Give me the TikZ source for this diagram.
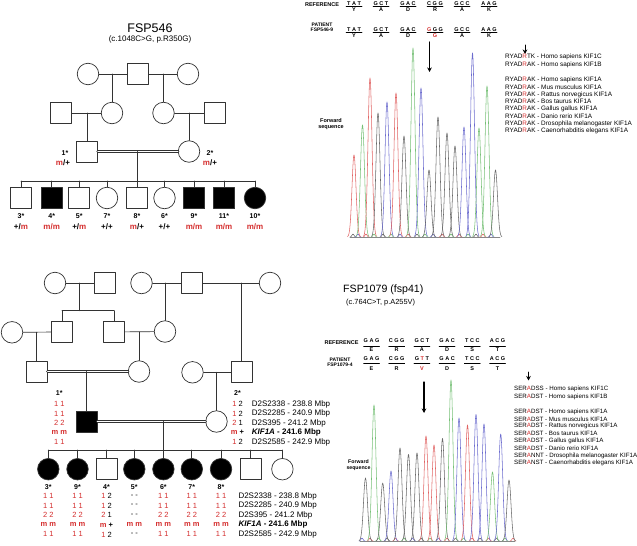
\documentclass[tikz,border=0pt]{standalone}
\usepackage{fontspec}
\setmainfont{Liberation Sans}
\usetikzlibrary{arrows.meta}

\definecolor{mutred}{RGB}{212,45,45}
\definecolor{trR}{RGB}{224,100,100}
\definecolor{trG}{RGB}{118,192,118}
\definecolor{trB}{RGB}{108,108,206}
\definecolor{trK}{RGB}{105,105,105}

\newcommand{\redtxt}[1]{\textcolor{mutred}{#1}}
\newcommand{\fsz}[1]{\fontsize{#1}{#1}\selectfont}
% haplotype columns (D2S2338, D2S2285, D2S395, KIF1A, D2S2585)
\newcommand{\hapaff}{\redtxt{1 1},\redtxt{1 1},\redtxt{2 2},\textbf{\redtxt{m m}},\redtxt{1 1}}
\newcommand{\hapcar}{\redtxt{1} 2,\redtxt{1} 2,\redtxt{2} 1,\textbf{\redtxt{m} +},\redtxt{1} 2}
\newcommand{\hapnone}{- -,- -,- -,\textbf{\redtxt{m m}},- -}
\newcommand{\loci}{D2S2338 - 238.8 Mbp,D2S2285 - 240.9 Mbp,D2S395 - 241.2 Mbp,\textbf{\textit{KIF1A} - 241.6 Mbp},D2S2585 - 242.9 Mbp}

\begin{document}
\begin{tikzpicture}[
    x=1pt, y=-1pt,
    line cap=round,
    line join=round,
    kin/.style={draw=black!80, line width=0.7pt},
    male/.style={kin, rectangle, minimum size=21pt, inner sep=0pt},
    female/.style={kin, circle, minimum size=21.5pt, inner sep=0pt},
    affected/.style={fill=black},
    consang/.style={draw=black!80, line width=1pt, double=white, double distance=1pt},
    famtitle/.style={font=\fsz{12.5}},
    mutation/.style={font=\fsz{8}},
    idlbl/.style={font=\bfseries\fsz{7}, inner sep=0pt},
    geno/.style={font=\bfseries\fsz{8}, inner sep=0pt},
    hap/.style={font=\fsz{7.5}, inner sep=0pt},
    locus/.style={font=\fsz{8}, inner sep=0pt, anchor=west},
    seqlbl/.style={font=\bfseries\fontsize{5}{5.4}\selectfont, inner sep=0pt, align=center},
    nuc/.style={font=\bfseries\fsz{5.5}, inner sep=0pt},
    codline/.style={draw=black, line width=0.5pt},
    ortho/.style={font=\fsz{6.4}, inner sep=0pt, anchor=west},
    chrom/.style={line width=0.55pt},
    pointer/.style={line width=1.2pt, -{Stealth[length=4.5pt, width=4.5pt]}}
]
\useasboundingbox (0,0) rectangle (637,546);

% -------------------------------------------------
% FSP546: pedigree
% -------------------------------------------------

\node[famtitle] (famA) at (150,28) {FSP546};
\node[mutation] (famAmut) at (150,39.3) {(c.1048C>G, p.R350G)};

% generation I
\node[female] (a1) at (88,74) {};
\node[male]   (a2) at (137.5,74) {};
\node[female] (a3) at (188,74) {};
% generation II
\node[male]   (b1) at (61,113) {};
\node[female] (b2) at (112,113) {};
\node[female] (b3) at (163.5,113) {};
\node[male]   (b4) at (214.5,113) {};
% parents 1* and 2*
\node[male]   (pa1) at (87,151.5) {};
\node[female] (pa2) at (189,151.5) {};
% sibship
\coordinate (sibA) at (0,181);
\node[male]             (s3)  at (21,198) {};
\node[male, affected]   (s4)  at (51.7,198) {};
\node[male]             (s5)  at (79.3,198) {};
\node[female]           (s7)  at (107,198) {};
\node[male]             (s8)  at (137,198) {};
\node[female]           (s6)  at (164.5,198) {};
\node[male, affected]   (s9)  at (194,198) {};
\node[male, affected]   (s11) at (224,198) {};
\node[female, affected] (s10) at (255,198) {};

\draw[kin] (a1) -- (a2) -- (a3);
\draw[kin] (b2 |- a1) -- (b2);
\draw[kin] (b3 |- a2) -- (b3);
\draw[kin] (b1) -- (b2);
\draw[kin] (b3) -- (b4);
\draw[kin] (pa1 |- b1) -- (pa1);
\draw[kin] (pa2 |- b4) -- (pa2);
\draw[consang] (pa1) -- (pa2);
\draw[kin] (s8 |- pa1) -- (s8);
\draw[kin] (s3 |- sibA) -- (s10 |- sibA);
\foreach \s in {s3,s4,s5,s7,s6,s9,s11,s10}
  \draw[kin] (\s |- sibA) -- (\s);

\node[idlbl] (pa1id) at (65,152.7) {1*};
\node[geno]  (pa1gt) at (63,163) {\redtxt{m}/+};
\node[idlbl] (pa2id) at (210,152.7) {2*};
\node[geno]  (pa2gt) at (210,163) {\redtxt{m}/+};

\foreach \s/\n/\g in {s3/3*/+\slash\redtxt{m}, s4/4*/\redtxt{m\slash m},
    s5/5*/+\slash\redtxt{m}, s7/7*/+\slash+, s8/8*/\redtxt{m}\slash+,
    s6/6*/+\slash+, s9/9*/\redtxt{m\slash m}, s11/11*/\redtxt{m\slash m},
    s10/10*/\redtxt{m\slash m}}
  \path (\s) ++(0,18) node[idlbl] (id-\s) {\n} ++(0,10.7) node[geno] (gt-\s) {\g};

% -------------------------------------------------
% FSP546: sequence
% -------------------------------------------------

\node[seqlbl, font=\bfseries\fsz{5.5}] (refA) at (322,4.5) {REFERENCE};
\node[seqlbl] (patA) at (322,27.5) {PATIENT\\FSP546-9};

\foreach \cx/\cod/\amino [count=\k] in {354/T A T/Y, 381/G C T/A, 408/G A C/D,
    435/C G G/R, 462/G C C/A, 489/A A G/K} {
  \node[nuc] (rcA\k) at (\cx,4) {\cod};
  \draw[codline] (\cx-8,6.5) -- (\cx+8,6.5);
  \node[nuc] (raA\k) at (\cx,9.5) {\amino};
}
\foreach \cx/\cod/\amino [count=\k] in {354/T A T/Y, 381/G C T/A, 408/G A C/D,
    435/\redtxt{G} G G/\redtxt{G}, 462/G C C/A, 489/A A G/K} {
  \node[nuc] (pcA\k) at (\cx,29.5) {\cod};
  \draw[codline] (\cx-8,32.3) -- (\cx+8,32.3);
  \node[nuc] (paA\k) at (\cx,35.3) {\amino};
}

\coordinate (arA1) at (429.5,42);
\coordinate (arA2) at (429.5,72);
\draw[pointer] (arA1) -- (arA2);

\node[seqlbl, font=\bfseries\fontsize{5.5}{6.8}\selectfont] (fwdA) at (331,124) {Forward\\sequence};

% chromatogram
\coordinate (bsA) at (350,237);
\coordinate (beA) at (500,237);
\draw[chrom, trK!80] (bsA) -- (beA);
\foreach \px/\pc in {353/trK, 358/trB, 366/trR, 374/trG, 383/trK, 391/trG, 400/trB,
    408/trR, 417/trK, 425/trG, 433/trB, 442/trR, 451/trG, 459/trR, 468/trG,
    476/trK, 483/trR, 491/trB}
  \draw[chrom, \pc] plot[domain=-3:3, samples=13, smooth] ({\px+\x},{237-3*exp(-(\x)*(\x)/2)});
\foreach \px/\py/\pc in {354/155/trR, 362.5/125/trG, 370/78/trR, 378/113/trK,
    387/102/trB, 396/93/trR, 404/136/trK, 413/48/trG, 421/88/trB, 429/170/trK,
    438/117/trK, 447/133/trK, 455/146/trK, 464/127/trB, 472.5/53/trB,
    479/128/trG, 487/86/trG, 495.5/170/trK}
  \draw[chrom, \pc] plot[domain=-6.5:6.5, samples=27, smooth] ({\px+\x},{237-(237-\py)*exp(-(\x)*(\x)/8)});

% conservation
\coordinate (arB1) at (525,45);
\coordinate (arB2) at (525,54);
\draw[pointer, line width=1pt] (arB1) -- (arB2);
\foreach \yy/\txt [count=\k] in {57/RYAD\redtxt{R}TK - Homo sapiens KIF1C,
    64.5/RYAD\redtxt{R}AK - Homo sapiens KIF1B,
    80/RYAD\redtxt{R}AK - Homo sapiens KIF1A,
    87.2/RYAD\redtxt{R}AK - Mus musculus KIF1A,
    94.5/RYAD\redtxt{R}AK - Rattus norvegicus KIF1A,
    101.8/RYAD\redtxt{R}AK - Bos taurus KIF1A,
    109.1/RYAD\redtxt{R}AK - Gallus gallus KIF1A,
    116.4/RYAD\redtxt{R}AK - Danio rerio KIF1A,
    123.7/RYAD\redtxt{R}AK - Drosophila melanogaster KIF1A,
    131/RYAD\redtxt{R}AK - Caenorhabditis elegans KIF1A}
  \node[ortho] (alA\k) at (505,\yy) {\txt};

% -------------------------------------------------
% FSP1079: pedigree
% -------------------------------------------------

% generation I
\node[female] (e1) at (55,283) {};
\node[male]   (e2) at (105,283) {};
\node[female] (e3) at (141.5,283) {};
\node[male]   (e4) at (191.7,283) {};
\node[female] (e5) at (270,283) {};
% generation II
\node[female] (f1) at (12,332.3) {};
\node[male]   (f2) at (62,332) {};
\node[male]   (f3) at (114,332) {};
\node[female] (f4) at (165,331.5) {};
% generation III
\node[male]   (h1) at (36.7,371.5) {};
\node[female] (h2) at (139,371.5) {};
\node[female] (h3) at (192.5,372.3) {};
\node[male]   (h4) at (241.5,372.3) {};
% parents 1* and 2*
\node[male, affected] (g1) at (86.5,421.5) {};
\node[female]         (g2) at (216.5,421.5) {};
% sibship
\coordinate (sibG) at (0,450);
\node[female, affected] (d3) at (48.3,469.2) {};
\node[female, affected] (d9) at (77.5,469.2) {};
\node[male]             (d4) at (106.5,469.2) {};
\node[female, affected] (d5) at (134.3,469.2) {};
\node[female, affected] (d6) at (163.4,469.2) {};
\node[female, affected] (d7) at (191.8,469.2) {};
\node[female, affected] (d8) at (221,469.2) {};
\node[male]             (dA) at (250.5,469.2) {};
\node[female]           (dB) at (282.4,469.2) {};

\coordinate (sibE) at (0,310.7);
\coordinate (jE) at (79.5,283);
\draw[kin] (e1) -- (e2);
\draw[kin] (jE) -- (jE |- sibE);
\draw[kin] (f2 |- sibE) -- (f3 |- sibE);
\draw[kin] (f2 |- sibE) -- (f2);
\draw[kin] (f3 |- sibE) -- (f3);
\draw[kin] (e3) -- (e4) -- (e5);
\draw[kin] (f4 |- e3) -- (f4);
\draw[kin] (h4 |- e4) -- (h4);
\draw[kin] (f1) -- (f2);
\draw[kin] (h1 |- f1) -- (h1);
\draw[kin] (f3) -- (f4);
\draw[kin] (h2 |- f3) -- (h2);
\draw[consang] (h1) -- (h2);
\draw[kin] (g1 |- h1) -- (g1);
\draw[kin] (h3) -- (h4);
\draw[kin] (g2 |- h3) -- (g2);
\draw[consang] (g1) -- (g2);
\draw[kin] (d6 |- g1) -- (d6);
\draw[kin] (d3 |- sibG) -- (dB |- sibG);
\foreach \s in {d3,d9,d4,d5,d7,d8,dA,dB}
  \draw[kin] (\s |- sibG) -- (\s);

% haplotypes
\coordinate (hp1) at (59.3,393);
\coordinate (hp2) at (237.5,393);
\node[idlbl] (g1id) at (hp1) {1*};
\node[idlbl] (g2id) at (hp2) {2*};
\foreach \t [count=\r] in \hapaff
  \path (hp1) ++(0,{1.5+9.5*\r}) node[hap] (hg1-\r) {\t};
\foreach \t [count=\r] in \hapcar
  \path (hp2) ++(0,{1.5+9.5*\r}) node[hap] (hg2-\r) {\t};
\foreach \t [count=\r] in \loci
  \path (hp2) ++(14.2,{1.5+9.5*\r}) node[locus] (lg2-\r) {\t};

\foreach \s/\n in {d3/3*, d9/9*, d4/4*, d5/5*, d6/6*, d7/7*, d8/8*}
  \path (\s) ++(0,17.5) node[idlbl] (id-\s) {\n};
\foreach \s in {d3,d9,d6,d7,d8}
  \foreach \t [count=\r] in \hapaff
    \path (\s) ++(0,{17.2+9.6*\r}) node[hap] (hp-\s-\r) {\t};
\foreach \t [count=\r] in \hapcar
  \path (d4) ++(0,{17.2+9.6*\r}) node[hap] (hp-d4-\r) {\t};
\foreach \t [count=\r] in \hapnone
  \path (d5) ++(0,{17.2+9.6*\r}) node[hap] (hp-d5-\r) {\t};
\foreach \t [count=\r] in \loci
  \path (d8) ++(17.3,{17.2+9.6*\r}) node[locus] (ld-\r) {\t};

% -------------------------------------------------
% FSP1079: sequence
% -------------------------------------------------

\node[font=\fsz{10.6}, inner sep=0pt, anchor=west] (famB) at (343,290) {FSP1079 (fsp41)};
\node[font=\fsz{7.4}, inner sep=0pt, anchor=west] (famBmut) at (346,302.7) {(c.764C>T, p.A255V)};

\node[seqlbl, font=\bfseries\fsz{5.5}] (refB) at (341.5,342.7) {REFERENCE};
\node[seqlbl] (patB) at (340,362.2) {PATIENT\\FSP1079-4};

\foreach \cx/\cod/\amino [count=\k] in {371.5/G A G/E, 396.7/C G G/R, 421.9/G C T/A,
    447.1/G A C/D, 472.3/T C C/S, 497.5/A C G/T} {
  \node[nuc] (rcB\k) at (\cx,341) {\cod};
  \draw[codline] (\cx-8,345.8) -- (\cx+8,345.8);
  \node[nuc] (raB\k) at (\cx,349.3) {\amino};
}
\foreach \cx/\cod/\amino [count=\k] in {371.5/G A G/E, 396.7/C G G/R,
    421.9/G \redtxt{T} T/\redtxt{V}, 447.1/G A C/D, 472.3/T C C/S, 497.5/A C G/T} {
  \node[nuc] (pcB\k) at (\cx,358.3) {\cod};
  \draw[codline] (\cx-8,363) -- (\cx+8,363);
  \node[nuc] (paB\k) at (\cx,368.5) {\amino};
}

\coordinate (arC1) at (424,382);
\coordinate (arC2) at (424,413);
\draw[pointer] (arC1) -- (arC2);

\node[seqlbl, font=\bfseries\fontsize{5.2}{6}\selectfont] (fwdB) at (358.5,465.5) {Forward\\sequence};

% chromatogram
\coordinate (bsB) at (360,541);
\coordinate (beB) at (515,541);
\draw[chrom, trK!80] (bsB) -- (beB);
\foreach \px/\pc in {362/trB, 370/trR, 378.5/trG, 387/trK, 395.5/trR, 404/trG,
    412.5/trB, 421/trK, 430/trG, 438.5/trB, 447/trR, 455.5/trK, 463.5/trG,
    472/trR, 480/trK, 488.5/trR, 496.5/trK, 505/trG, 513/trR}
  \draw[chrom, \pc] plot[domain=-3:3, samples=13, smooth] ({\px+\x},{541-3*exp(-(\x)*(\x)/2)});
\foreach \px/\py/\pc in {365.5/478/trK, 374/405/trG, 382.7/483/trK, 391/471/trB,
    400/448/trK, 408.5/454.5/trK, 417/453/trK, 426/436/trR, 434/445/trR,
    442.5/438.5/trK, 451/380/trG, 459/418/trB, 467.5/425/trR, 476/414.5/trB,
    484/424/trB, 492.5/472/trG, 500.7/434/trB, 509/480/trK}
  \draw[chrom, \pc] plot[domain=-6.5:6.5, samples=27, smooth] ({\px+\x},{541-(541-\py)*exp(-(\x)*(\x)/8)});

% conservation
\coordinate (arD1) at (528.5,372);
\coordinate (arD2) at (528.5,380.5);
\draw[pointer, line width=1pt] (arD1) -- (arD2);
\foreach \yy/\txt [count=\k] in {389.3/SER\redtxt{A}DSS - Homo sapiens KIF1C,
    396.7/SER\redtxt{A}DST - Homo sapiens KIF1B,
    411.7/SER\redtxt{A}DST - Homo sapiens KIF1A,
    419/SER\redtxt{A}DST - Mus musculus KIF1A,
    426.3/SER\redtxt{A}DST - Rattus norvegicus KIF1A,
    433.5/SER\redtxt{A}DST - Bos taurus KIF1A,
    440.8/SER\redtxt{A}DST - Gallus gallus KIF1A,
    448.1/SER\redtxt{A}DST - Danio rerio KIF1A,
    455.4/SER\redtxt{A}NNT - Drosophila melanogaster KIF1A,
    462.7/SER\redtxt{A}NST - Caenorhabditis elegans KIF1A}
  \node[ortho, font=\fsz{6.2}] (alB\k) at (514,\yy) {\txt};

\end{tikzpicture}
\end{document}
